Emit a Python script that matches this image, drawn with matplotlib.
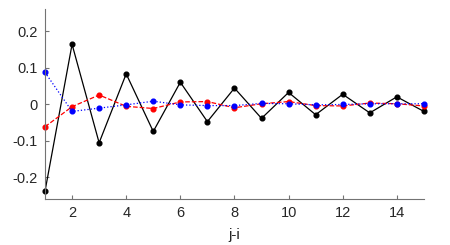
import numpy as np
import matplotlib as mpl
mpl.use('Agg')
import matplotlib.pyplot as plt

plt.rcParams['font.family'] = ['Liberation Sans', 'DejaVu Sans']

lag = np.arange(1, 16)
black_vals = [-0.239, 0.164, -0.106, 0.083, -0.075, 0.060, -0.048, 0.044,
              -0.039, 0.032, -0.029, 0.027, -0.024, 0.020, -0.020]
red_vals = [-0.062, -0.007, 0.025, -0.006, -0.012, 0.006, 0.007, -0.010,
            0.001, 0.007, -0.004, -0.005, 0.003, 0.001, -0.005]
blue_vals = [0.087, -0.020, -0.011, -0.002, 0.008, -0.002, -0.004, -0.004,
             0.002, 0.001, -0.002, -0.001, 0.001, 0.001, 0.001]

fig = plt.figure(figsize=(4.5, 2.45), dpi=100)
ax = fig.add_axes([0.1, 0.188, 0.842, 0.774])

ax.plot(lag, black_vals, '-', color='black', lw=0.9, marker='o', ms=3.4, clip_on=False)
ax.plot(lag, red_vals, '--', color='red', lw=0.9, marker='o', ms=3.4, clip_on=False)
ax.plot(lag, blue_vals, ':', color='blue', lw=0.9, marker='o', ms=3.4, clip_on=False)

ax.set_xlim(1, 15)
ax.set_ylim(-0.26, 0.26)
ax.set_xticks([2, 4, 6, 8, 10, 12, 14])
ax.set_yticks([-0.2, -0.1, 0, 0.1, 0.2])
ax.set_yticklabels(['-0.2', '-0.1', '0', '0.1', '0.2'])
ax.set_xlabel('j-i', fontsize=11, color='0.15', labelpad=6)

for s in ['top', 'right']:
    ax.spines[s].set_visible(False)
for s in ['left', 'bottom']:
    ax.spines[s].set_color('0.45')
    ax.spines[s].set_linewidth(0.8)
ax.tick_params(direction='in', length=3, width=0.8, color='0.45',
               labelcolor='0.15', labelsize=10.5, pad=5)

fig.savefig('out.png')
